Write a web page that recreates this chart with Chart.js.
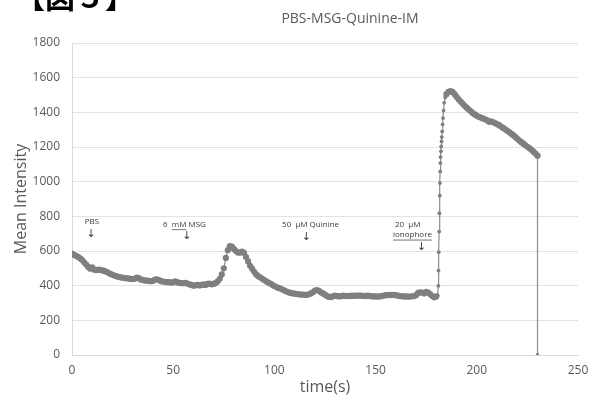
<!DOCTYPE html>
<html>
<head>
<meta charset="utf-8">
<script src="https://cdn.jsdelivr.net/npm/chart.js@4"></script>
<style>
  html, body { margin: 0; padding: 0; background: #fff; }
  #wrap { width: 600px; height: 401px; position: relative; }
</style>
</head>
<body>
<div id="wrap"><canvas id="myChart" width="600" height="401"></canvas></div>
<script>
// mean intensity, one reading per second from t = 0 to t = 180
const baseline = [
  585, 578, 572, 566, 558, 548, 535, 522, 508, 498,
  505, 492, 490, 492, 491, 488, 485, 480, 474, 468,
  463, 458, 454, 451, 448, 446, 444, 443, 441, 440,
  438, 440, 446, 443, 436, 432, 430, 429, 428, 426,
  428, 435, 437, 432, 426, 424, 422, 420, 420, 418,
  419, 425, 420, 416, 415, 414, 416, 412, 408, 404,
  400, 402, 405, 401, 404, 408, 404, 410, 412, 408,
  410, 416, 425, 440, 465, 500, 560, 605, 628, 625,
  612, 600, 592, 590, 596, 590, 565, 540, 515, 498,
  480, 465, 455, 448, 440, 432, 425, 418, 412, 405,
  398, 392, 387, 383, 378, 372, 366, 362, 358, 356,
  354, 352, 350, 349, 348, 347, 347, 350, 355, 362,
  372, 375, 370, 362, 355, 348, 340, 335, 334, 340,
  342, 340, 338, 340, 342, 340, 341, 340, 342, 341,
  343, 342, 343, 342, 341, 340, 342, 341, 339, 338,
  338, 337, 338, 340, 343, 345, 346, 347, 346, 347,
  345, 342, 340, 339, 338, 338, 337, 337, 339, 340,
  345, 358, 362, 360, 355, 365, 360, 350, 340, 333,
  338
];

// ionophore response (fast rise, markers read one by one)
const riseTimes = [180.6, 181.0, 181.1, 181.2, 181.4, 181.5, 181.7, 181.8, 181.9, 182.0,
                   182.1, 182.3, 182.4, 182.6, 182.7, 182.9, 183.1, 183.3, 183.6, 183.9, 184.4];
const riseValues = [345, 399, 487, 593, 712, 818, 920, 992, 1059, 1107,
                    1142, 1175, 1203, 1232, 1257, 1290, 1330, 1367, 1410, 1455, 1485];

// decay, one reading per second from t = 185 to t = 230
const decayStart = 185;
const decay = [
  1505, 1518, 1523, 1518, 1505, 1490, 1475, 1462, 1450, 1438,
  1427, 1416, 1406, 1396, 1388, 1380, 1374, 1370, 1365, 1360,
  1355, 1345, 1348, 1344, 1338, 1332, 1326, 1318, 1310, 1302,
  1294, 1286, 1277, 1268, 1258, 1247, 1237, 1228, 1219, 1210,
  1201, 1193, 1184, 1173, 1162, 1150
];

// last recorded point drops to zero
const endTime = 230;
const endValue = 0;

const xTicks = [0, 50, 100, 150, 200, 250];
const yTicks = [0, 200, 400, 600, 800, 1000, 1200, 1400, 1600, 1800];

const chartTitle = 'PBS-MSG-Quinine-IM';
const figLabel = '【図５】';

let points = [];
baseline.forEach((v, i) => points.push({ x: i, y: v }));
riseTimes.forEach((t, i) => points.push({ x: t, y: riseValues[i], steep: true }));
decay.forEach((v, i) => points.push({ x: decayStart + i, y: v }));
points.push({ x: endTime, y: endValue, steep: true });

const GREY = '#595959';

// labels written on the plot, in data units
const notes = [
  { text: 'PBS', x: 6.3, y: 768 },
  { text: '↓', x: 7.2, y: 700, arrow: true },
  { text: '6  mM MSG', x: 45, y: 752, underline: 'mM' },
  { text: '↓', x: 54.5, y: 688, arrow: true },
  { text: '50  μM Quinine', x: 103.8, y: 752 },
  { text: '↓', x: 113.5, y: 682, arrow: true },
  { text: '20  μM', x: 159.6, y: 752 },
  { text: 'ionophore', x: 158.6, y: 692, underline: 'ionophore' },
  { text: '↓', x: 170.5, y: 624, arrow: true }
];

const textPlugin = {
  id: 'textPlugin',
  afterDraw(chart) {
    const ctx = chart.ctx;
    const xs = chart.scales.x, ys = chart.scales.y;
    ctx.save();
    // figure label cut at the top edge
    ctx.fillStyle = '#000';
    ctx.font = 'bold 30px "Noto Sans CJK JP"';
    ctx.textAlign = 'left';
    ctx.textBaseline = 'alphabetic';
    ctx.fillText(figLabel, 15, 8);

    ctx.fillStyle = GREY;
    ctx.font = '14px "Open Sans"';
    ctx.textAlign = 'center';
    ctx.textBaseline = 'middle';
    ctx.fillText(chartTitle, 350, 19);

    ctx.textAlign = 'left';
    ctx.fillStyle = '#3a3a3a';
    ctx.strokeStyle = '#3a3a3a';
    ctx.lineWidth = 0.7;
    notes.forEach(n => {
      const px = xs.getPixelForValue(n.x);
      const py = ys.getPixelForValue(n.y);
      ctx.font = n.arrow ? '11px "DejaVu Sans"' : '8px "Open Sans"';
      ctx.fillText(n.text, px, py);
      if (n.underline) {
        const start = n.text.indexOf(n.underline);
        const ux = px + ctx.measureText(n.text.slice(0, start)).width;
        const uw = ctx.measureText(n.underline).width;
        ctx.beginPath();
        ctx.moveTo(ux, py + 5);
        ctx.lineTo(ux + uw, py + 5);
        ctx.stroke();
      }
    });
    ctx.restore();
  }
};

function makeChart() {
  const ctx = document.getElementById('myChart');
  new Chart(ctx, {
    type: 'scatter',
    data: {
      datasets: [{
        label: chartTitle,
        data: points,
        showLine: true,
        borderColor: '#8c8c8c',
        borderWidth: 1.2,
        pointBackgroundColor: '#7f7f7f',
        pointBorderWidth: 0,
        pointRadius: c => (c.raw && c.raw.steep) ? 1.9 : 3.1
      }]
    },
    options: {
      responsive: false,
      animation: false,
      layout: { padding: { top: 43, right: 22, left: 0, bottom: 0 } },
      plugins: {
        legend: { display: false },
        tooltip: { enabled: false },
        title: { display: false }
      },
      scales: {
        x: {
          type: 'linear',
          min: xTicks[0],
          max: xTicks[xTicks.length - 1],
          afterBuildTicks: s => { s.ticks = xTicks.map(v => ({ value: v })); },
          afterFit: s => { s.height = 46; },
          grid: { display: false, drawTicks: false },
          border: { display: true, color: '#d9d9d9', width: 1 },
          ticks: { color: GREY, font: { family: 'Open Sans', size: 12 }, padding: 8, maxRotation: 0,
                   callback: v => String(v) },
          title: { display: true, text: 'time(s)', color: GREY,
                   font: { family: 'Open Sans', size: 16 }, padding: { top: 0, bottom: 4 } }
        },
        y: {
          min: yTicks[0],
          max: yTicks[yTicks.length - 1],
          afterBuildTicks: s => { s.ticks = yTicks.map(v => ({ value: v })); },
          afterFit: s => { s.width = 72; },
          grid: { color: '#e3e3e3', drawTicks: false },
          border: { display: true, color: '#d9d9d9', width: 1 },
          ticks: { color: GREY, font: { family: 'Open Sans', size: 12 }, padding: 12,
                   callback: v => String(v) },
          title: { display: true, text: 'Mean Intensity', color: GREY,
                   font: { family: 'Open Sans', size: 16 }, padding: { top: 12, bottom: 0 } }
        }
      }
    },
    plugins: [textPlugin]
  });
}

makeChart();
</script>
</body>
</html>
